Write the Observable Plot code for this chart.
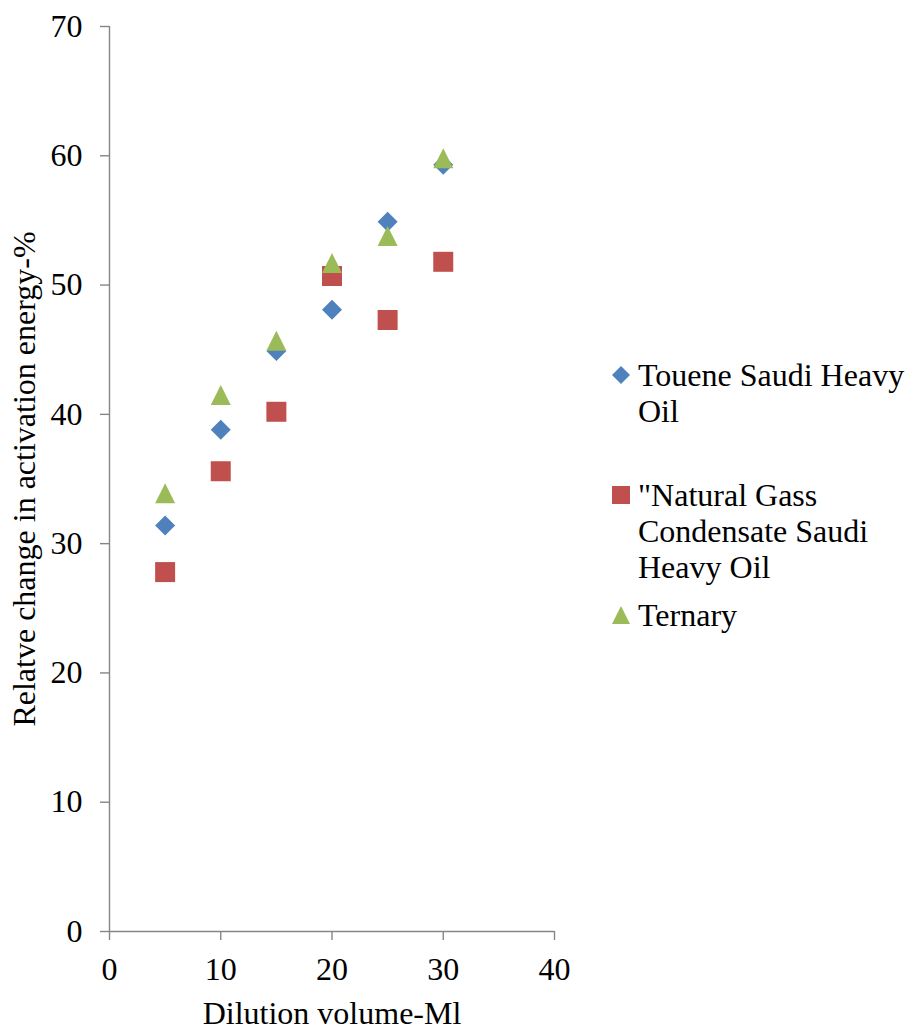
<!DOCTYPE html>
<html>
<head>
<meta charset="utf-8">
<script src="https://cdn.jsdelivr.net/npm/d3@7"></script>
<script src="https://cdn.jsdelivr.net/npm/@observablehq/plot@0.6"></script>
<style>
  html, body { margin: 0; padding: 0; background: #fff; }
  #wrap { position: relative; width: 909px; height: 1029px; font-family: "Liberation Serif", "Times New Roman", serif; }
  #legend { position: absolute; left: 609px; top: 0; font-size: 32px; line-height: 36px; color: #000; }
  .item { position: absolute; left: 0; white-space: nowrap; }
  .item svg { position: absolute; left: 0; }
  .item .lbl { position: absolute; left: 29px; white-space: nowrap; }
</style>
</head>
<body>
<div id="wrap"></div>
<script>
// ---- data ----
const volumes = [5, 10, 15, 20, 25, 30];
const touene = [31.4, 38.8, 44.9, 48.1, 54.9, 59.3];
const naturalGas = [27.8, 35.6, 40.2, 50.7, 47.3, 51.8];
const ternary = [33.9, 41.5, 45.7, 51.7, 53.8, 59.8];
const seriesNames = ["Touene Saudi Heavy Oil", "\"Natural Gass Condensate Saudi Heavy Oil", "Ternary"];
const legendLines = [["Touene Saudi Heavy", "Oil"], ["\"Natural Gass", "Condensate Saudi", "Heavy Oil"], ["Ternary"]];
const seriesColors = ["#4F81BD", "#C0504D", "#9BBB59"];
const xTicks = [0, 10, 20, 30, 40];
const yTicks = [0, 10, 20, 30, 40, 50, 60, 70];

// custom symbols sized from r (size = pi r^2)
const symDiamond = { draw(ctx, size) { const r = Math.sqrt(size / Math.PI); ctx.moveTo(0, -r); ctx.lineTo(r, 0); ctx.lineTo(0, r); ctx.lineTo(-r, 0); ctx.closePath(); } };
const symSquare = { draw(ctx, size) { const r = Math.sqrt(size / Math.PI); ctx.rect(-r, -r, 2 * r, 2 * r); } };
const symTriangle = { draw(ctx, size) { const r = Math.sqrt(size / Math.PI); ctx.moveTo(0, -r); ctx.lineTo(r, r); ctx.lineTo(-r, r); ctx.closePath(); } };
const symbols = [symDiamond, symSquare, symTriangle];

const seriesValues = [touene, naturalGas, ternary];
const rows = [];
seriesValues.forEach((vals, s) => vals.forEach((v, i) => rows.push({ series: seriesNames[s], x: volumes[i], y: v, s })));

const axisColor = "#868686";

const marks = [
  Plot.ruleY([0], { stroke: axisColor, strokeWidth: 1.4 }),
  Plot.ruleX([0], { y1: 0, y2: 70, stroke: axisColor, strokeWidth: 1.4 }),
  Plot.axisY({ ticks: yTicks, tickSize: 9, tickPadding: 18, stroke: axisColor, strokeWidth: 1.4, color: "#000",
    label: "Relatve change in activation energy-%", labelAnchor: "center", labelArrow: "none", labelOffset: 97 }),
  Plot.axisX({ ticks: xTicks, tickSize: 9, tickPadding: 17, stroke: axisColor, strokeWidth: 1.4, color: "#000",
    label: "Dilution volume-Ml", labelAnchor: "center", labelArrow: "none", labelOffset: 92 })
];
seriesNames.forEach((name, s) => {
  marks.push(Plot.dot(rows.filter(d => d.s === s), { x: "x", y: "y", symbol: () => symbols[s], r: 10, fill: seriesColors[s], stroke: "none" }));
});

const chart = Plot.plot({
  width: 909,
  height: 1029,
  marginLeft: 109,
  marginRight: 355,
  marginTop: 26,
  marginBottom: 98,
  style: { fontFamily: "Liberation Serif, Times New Roman, serif", fontSize: "32px", background: "#fff", color: "#000" },
  x: { domain: [0, 40] },
  y: { domain: [0, 70] },
  symbol: { type: "identity" },
  marks
});
document.getElementById("wrap").appendChild(chart);

// ---- legend ----
const legend = document.createElement("div");
legend.id = "legend";
const itemTops = [357, 477, 597];
legendLines.forEach((lines, s) => {
  const item = document.createElement("div");
  item.className = "item";
  item.style.top = itemTops[s] + "px";
  const svg = d3.create("svg").attr("width", 24).attr("height", 24).style("top", "6px");
  const p = d3.path();
  const sz = Math.PI * 9 * 9;
  p.moveTo(0, 0);
  const g = svg.append("path").attr("transform", "translate(12,12)").attr("fill", seriesColors[s]);
  const ctx = d3.path();
  symbols[s].draw(ctx, sz);
  g.attr("d", ctx.toString());
  item.appendChild(svg.node());
  const lbl = document.createElement("div");
  lbl.className = "lbl";
  lbl.innerHTML = lines.map(t => t.replace(/&/g, "&amp;").replace(/</g, "&lt;")).join("<br>");
  item.appendChild(lbl);
  legend.appendChild(item);
});
document.getElementById("wrap").appendChild(legend);
</script>
</body>
</html>
